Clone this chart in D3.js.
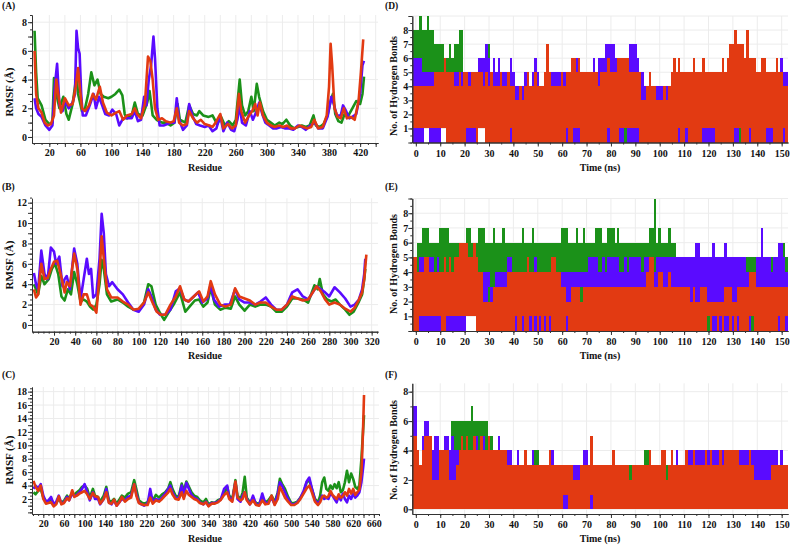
<!DOCTYPE html>
<html><head><meta charset="utf-8">
<script src="https://cdn.jsdelivr.net/npm/d3@7"></script>
<style>
body{margin:0;background:#fff}
svg text{font-family:"Liberation Serif","Times New Roman",serif;font-weight:bold;fill:#111}
</style></head><body>
<svg id="c" width="790" height="545"></svg>
<script>
const COLORS = {green:"#1b9119", blue:"#5a0bff", red:"#e23a12"};
const FONT = "'Liberation Serif','Times New Roman',serif";

// ---------- (A) RMSF, residue/value pairs ----------
const A_green = [[1,7.4],[3,4.5],[5,2.7],[10,2.2],[15,1.2],[20,0.9],[24,1.0],[26,4.1],[29,3.0],[33,2.0],[38,2.8],[42,1.6],[45,1.2],[50,2.3],[55,4.3],[57,3.0],[62,1.8],[66,2.0],[70,3.0],[74,4.5],[78,3.6],[82,4.0],[86,3.0],[90,2.8],[96,2.7],[100,2.8],[105,3.0],[110,3.3],[114,2.9],[117,1.6],[120,1.3],[126,1.5],[130,2.4],[134,1.6],[140,1.5],[146,2.4],[149,3.2],[153,1.5],[158,1.2],[165,1.0],[170,1.0],[176,0.8],[181,1.0],[185,2.3],[188,1.2],[195,1.0],[200,2.2],[205,1.6],[210,1.5],[213,1.8],[218,1.5],[225,1.4],[230,1.5],[236,0.9],[241,1.4],[246,0.8],[251,1.1],[256,0.8],[260,1.2],[265,4.0],[268,2.2],[272,1.5],[276,1.8],[280,2.8],[283,1.8],[287,3.7],[290,2.8],[295,1.8],[300,1.2],[305,1.0],[310,0.8],[316,1.0],[320,0.9],[325,1.2],[330,0.8],[335,0.6],[340,0.7],[345,0.8],[350,0.7],[355,0.8],[360,1.5],[363,0.8],[368,0.7],[373,0.9],[378,1.5],[382,2.5],[385,3.0],[388,1.6],[392,1.1],[396,1.0],[400,1.6],[405,1.5],[410,2.0],[415,2.5],[420,2.3],[423,3.0],[425,4.2]];
const A_blue = [[1,2.7],[3,2.0],[6,1.6],[10,1.4],[15,0.8],[20,0.5],[24,0.8],[27,3.5],[30,5.1],[33,2.2],[37,1.8],[40,2.5],[45,2.0],[50,2.4],[53,3.0],[55,7.4],[57,6.2],[59,5.8],[61,3.0],[63,1.5],[67,1.5],[72,2.2],[77,3.0],[80,2.0],[84,2.8],[88,2.2],[92,1.6],[97,1.5],[101,1.9],[106,1.6],[110,0.8],[115,1.3],[120,1.3],[126,1.3],[130,1.8],[134,1.1],[138,1.2],[142,2.8],[145,2.2],[148,4.0],[151,5.0],[154,7.0],[156,5.5],[159,2.0],[162,0.8],[167,0.8],[172,0.9],[177,1.0],[181,1.0],[184,2.7],[187,1.2],[192,0.5],[197,0.8],[200,2.3],[204,1.5],[209,0.9],[214,0.8],[220,0.7],[225,0.8],[230,0.4],[235,0.6],[240,1.5],[244,0.4],[249,1.0],[254,0.5],[258,0.4],[262,1.2],[265,2.2],[268,1.0],[273,0.8],[278,1.8],[282,1.2],[286,1.7],[290,2.4],[294,1.6],[298,1.0],[303,0.8],[308,0.6],[313,0.6],[318,0.7],[323,0.6],[328,0.6],[334,0.5],[340,0.8],[345,0.7],[350,0.5],[356,0.8],[362,1.0],[366,0.6],[372,0.6],[378,1.4],[383,2.8],[386,2.3],[390,1.5],[395,1.5],[398,2.2],[402,1.8],[406,1.3],[410,1.4],[415,1.6],[420,3.0],[423,5.0],[425,5.3]];
const A_red = [[1,6.0],[3,3.0],[6,2.0],[10,1.7],[14,1.0],[18,0.8],[22,0.9],[26,1.5],[29,4.0],[32,2.8],[35,1.7],[40,2.7],[45,2.2],[50,2.3],[54,3.5],[57,4.8],[59,3.6],[62,2.0],[66,1.8],[71,2.2],[76,3.0],[80,2.6],[85,3.5],[89,2.4],[94,1.7],[100,1.5],[106,1.7],[110,1.8],[115,1.2],[120,1.5],[126,1.6],[130,2.0],[133,1.6],[138,1.3],[143,2.3],[147,5.6],[150,5.3],[153,4.0],[156,2.0],[160,1.2],[165,1.3],[170,1.1],[176,1.0],[180,1.1],[184,2.0],[187,1.0],[192,0.8],[197,0.9],[200,1.8],[205,1.3],[210,1.0],[215,1.2],[220,0.9],[226,0.8],[230,0.7],[234,1.0],[240,1.6],[244,0.6],[250,0.9],[255,0.6],[260,0.8],[264,3.0],[267,1.8],[272,1.0],[277,1.5],[281,1.8],[285,2.3],[288,1.5],[291,2.4],[295,1.5],[300,1.0],[305,0.8],[310,0.7],[316,0.8],[321,0.7],[326,0.8],[331,0.6],[336,0.6],[342,0.8],[347,0.7],[352,0.6],[357,0.7],[361,1.2],[366,0.6],[372,0.7],[377,1.5],[380,3.5],[382,6.5],[384,5.0],[387,2.0],[391,1.4],[395,1.3],[399,2.0],[403,1.3],[408,1.4],[413,1.2],[418,2.5],[421,4.5],[424,6.8]];

// ---------- (B) RMSF ----------
const B_blue = [[1,5.1],[3,4.0],[5,3.5],[8,7.3],[11,5.0],[14,4.5],[17,7.6],[20,7.2],[22,6.0],[25,6.7],[28,3.8],[30,4.5],[32,4.8],[35,3.5],[39,7.5],[42,6.0],[45,2.5],[48,4.5],[51,6.5],[53,5.0],[55,5.5],[57,2.7],[60,3.0],[63,6.5],[65,10.9],[67,9.0],[69,5.0],[72,3.8],[75,4.2],[80,3.5],[85,3.0],[90,2.2],[95,1.5],[100,1.3],[105,2.0],[109,3.5],[112,2.8],[116,1.5],[120,1.0],[125,1.0],[130,1.5],[135,3.3],[139,3.6],[143,2.5],[147,2.3],[152,2.8],[156,3.2],[160,2.2],[165,2.6],[168,4.0],[171,2.5],[176,1.8],[181,2.0],[186,2.0],[191,3.5],[195,2.5],[200,2.2],[205,2.2],[210,2.0],[215,2.3],[220,2.7],[225,2.0],[230,1.5],[235,1.5],[240,2.0],[245,3.2],[250,3.5],[255,2.8],[260,2.5],[265,3.3],[268,3.8],[272,3.5],[276,3.2],[280,2.8],[285,3.7],[290,3.2],[295,2.6],[300,1.8],[304,2.0],[308,2.5],[311,3.5],[313,5.0],[314,6.5]];
const B_green = [[1,4.0],[3,3.5],[5,3.0],[8,4.8],[11,4.0],[15,4.5],[18,5.5],[21,6.0],[24,5.0],[27,2.8],[30,2.4],[33,3.5],[36,3.0],[39,5.2],[42,4.0],[45,2.3],[48,2.5],[51,2.3],[54,1.8],[57,1.5],[60,2.0],[63,4.0],[65,6.4],[67,5.5],[70,3.0],[74,2.3],[80,2.5],[85,2.2],[90,1.8],[95,1.5],[100,1.5],[105,2.2],[109,4.0],[112,3.8],[116,2.0],[120,1.2],[124,0.5],[128,1.2],[133,2.0],[139,3.2],[144,1.3],[148,1.8],[153,2.4],[157,2.5],[161,1.8],[165,2.2],[168,3.6],[172,2.0],[177,1.5],[182,1.7],[187,1.6],[191,2.8],[195,2.0],[200,1.4],[205,2.0],[210,1.8],[215,2.0],[220,2.0],[225,1.8],[230,1.3],[235,1.3],[240,1.8],[245,2.6],[250,2.6],[255,2.5],[260,2.2],[266,3.9],[269,3.5],[271,4.5],[274,3.0],[278,2.5],[282,2.3],[286,2.5],[290,2.0],[295,1.5],[299,1.0],[303,1.3],[308,2.3],[311,3.0],[313,4.5],[314,5.5]];
const B_red = [[1,3.5],[3,2.7],[5,3.0],[8,6.0],[11,4.5],[14,4.6],[17,5.5],[20,6.2],[23,6.3],[25,5.5],[28,4.2],[30,3.2],[32,4.2],[35,3.8],[39,7.0],[42,5.5],[45,2.0],[48,3.0],[51,3.0],[54,2.0],[57,1.8],[60,1.2],[63,5.0],[65,8.7],[67,6.5],[70,3.5],[74,2.7],[80,2.7],[85,2.3],[90,2.0],[95,1.5],[100,1.6],[105,2.2],[109,3.2],[113,2.2],[117,1.3],[121,1.0],[125,1.0],[130,2.0],[135,2.8],[139,3.8],[143,2.5],[147,2.3],[152,2.8],[157,3.3],[161,2.3],[165,2.8],[168,4.3],[172,3.0],[177,2.0],[182,1.8],[187,2.0],[191,3.6],[195,2.8],[200,2.6],[205,2.4],[210,2.0],[215,2.2],[220,2.2],[225,1.8],[230,1.5],[235,1.5],[240,2.0],[245,2.8],[250,2.6],[255,2.4],[260,2.5],[265,3.3],[268,3.8],[272,3.3],[276,2.5],[280,2.0],[285,2.2],[290,2.0],[295,1.6],[300,1.3],[304,1.7],[308,2.5],[311,3.2],[313,4.5],[315,6.9]];

// ---------- (C) RMSF, shared residues ----------
const C_res = [1,5,10,15,20,25,30,35,40,45,50,55,60,66,70,76,80,85,90,95,100,105,110,116,120,126,130,137,142,147,152,157,162,168,172,178,184,190,196,200,205,210,215,222,227,232,238,244,250,256,262,266,270,276,282,288,292,297,302,307,312,318,323,330,335,340,346,352,358,364,370,376,380,386,392,396,402,406,410,414,420,426,432,438,444,450,456,462,468,474,478,482,488,494,500,506,512,518,524,530,535,540,546,552,556,560,564,568,572,576,580,584,588,592,596,600,604,608,612,616,620,624,628,632,636,639,641];
const C_green = [3.0,2.7,3.2,3.5,2.2,1.7,1.6,2.0,1.3,1.4,2.0,1.5,1.7,2.5,2.0,3.0,2.6,3.0,3.3,3.8,4.0,3.5,2.2,3.5,2.5,2.3,1.6,2.5,3.8,1.8,1.6,2.0,1.3,2.0,2.5,2.2,2.8,3.0,4.8,3.5,1.8,1.5,1.3,1.5,2.5,1.8,2.6,2.2,2.7,3.0,3.6,4.5,3.5,2.5,2.3,4.3,3.2,4.6,3.8,3.0,2.5,2.3,1.8,1.5,2.0,1.2,1.5,1.4,1.8,2.0,2.8,3.8,2.5,2.0,4.8,2.5,2.0,3.0,5.3,2.2,1.5,2.0,1.4,1.3,2.2,1.5,1.8,2.5,1.5,3.0,5.0,4.3,3.5,2.3,1.4,1.4,1.6,2.2,3.0,4.5,4.8,3.5,2.0,1.5,2.5,4.5,5.2,3.5,3.2,4.0,3.5,4.2,3.6,4.5,3.0,3.3,4.5,6.2,4.5,5.8,5.0,3.8,3.5,4.0,8.0,12.0,14.5];
const C_blue = [3.5,4.0,3.6,4.2,2.5,1.6,1.8,2.3,1.2,1.6,2.5,1.3,1.5,2.3,1.8,2.8,2.4,2.6,3.0,3.5,4.2,3.0,1.8,3.0,2.0,2.0,1.2,2.0,3.5,1.5,1.2,1.8,1.0,1.6,2.0,1.8,2.3,2.5,4.2,2.8,1.5,1.2,1.0,1.3,3.5,1.5,2.0,1.8,2.2,2.8,3.5,4.0,3.0,2.2,2.0,4.0,2.5,4.4,3.5,2.6,2.2,2.0,1.5,1.2,1.6,1.0,1.4,1.4,1.6,2.0,3.5,4.0,2.2,1.8,4.5,2.0,1.6,2.5,3.0,2.0,1.2,2.5,1.2,1.1,2.8,1.3,1.5,2.2,1.2,2.8,4.5,4.0,3.0,2.0,1.2,1.2,1.5,2.2,3.2,4.6,5.2,3.6,1.8,1.3,1.8,2.5,2.0,2.2,2.0,2.8,2.5,2.0,1.5,2.5,1.8,2.8,2.0,1.5,2.5,2.0,2.8,2.2,2.5,3.0,4.5,6.5,8.0];
const C_red = [4.7,3.8,3.2,4.0,2.0,1.3,1.4,1.5,0.9,1.2,2.4,1.2,1.4,2.1,1.8,3.3,2.3,2.5,2.8,3.0,3.2,2.7,2.0,2.9,2.4,2.3,1.3,2.0,3.0,1.4,1.3,1.9,1.0,1.6,2.3,1.6,2.0,2.2,4.2,2.5,1.4,1.2,1.1,1.1,2.2,1.3,1.8,1.6,2.0,2.5,3.0,3.5,2.7,2.0,1.9,3.0,2.0,3.2,2.6,2.3,2.0,1.8,1.4,1.2,1.5,0.9,1.3,1.3,1.5,1.9,2.6,3.0,2.0,1.6,4.6,2.2,1.8,2.0,3.0,1.8,1.2,1.8,1.1,1.0,1.8,1.2,1.3,2.5,1.1,2.0,3.8,3.2,2.2,1.6,1.1,1.1,1.4,2.0,2.8,3.6,4.0,3.0,1.6,1.1,1.5,2.3,2.5,2.2,2.4,3.2,2.6,2.3,2.0,2.7,2.2,2.4,3.0,2.5,3.5,2.8,3.5,2.6,3.0,3.4,6.0,12.0,17.5];

// ---------- H-bond counts per ns (t = 0,1,2,...): upper / lower envelope of each trace ----------
const digits = s => Array.from(s, Number);
const D_green_hi = digits("8898898877"+"7766767788"+"5444444444"+"7444444554"+"4444444444"+"4444444444"+"4444444444"+"4444444444"+"4444444444"+"4444444444"+"4444444444"+"4444444444"+"5544445444"+"4444444444"+"4444444444"+"4444");
const D_green_lo = digits("1111111111"+"1111111111"+"1111111111"+"1111111111"+"1111111111"+"1111111111"+"1111111111"+"1111111111"+"1111100011"+"1111111111"+"1111111111"+"1111111111"+"1111111111"+"1110111111"+"1111110111"+"1111");
const D_blue_hi = digits("6665555555"+"5555555555"+"5555556667"+"6565655556"+"5444454456"+"5445545555"+"5544556655"+"5556566677"+"7766666677"+"7655445444"+"4444454555"+"5555555555"+"5555555555"+"5555555555"+"5555555555"+"6554");
const D_blue_lo = digits("0000110000"+"0110000000"+"0000001110"+"0000000000"+"0000000000"+"0000000000"+"0000000000"+"0000000000"+"0000001000"+"0000000000"+"0000000000"+"0000000000"+"0000000000"+"0001000000"+"0000000000"+"0000");
const D_red_hi = digits("4444444455"+"5565554454"+"5545555545"+"4544454454"+"4334345445"+"4445754444"+"5455665655"+"5555545556"+"5556666655"+"5553345443"+"3343456565"+"5555655565"+"5555556567"+"7877768666"+"5566555565"+"5444");
const D_red_lo = digits("1111111111"+"1110000000"+"0111101110"+"0000000001"+"0000000000"+"0000000000"+"0010011100"+"0000000001"+"0000111111"+"1100000000"+"0000000010"+"0100000011"+"1110000000"+"0111000100"+"0000111000"+"0100");

const E_green_hi = digits("5667776666"+"7777666666"+"6776667776"+"6676667666"+"6666766676"+"6666666666"+"7776667667"+"6666777667"+"7767666666"+"6666667796"+"7666766555"+"5555555555"+"5555555555"+"5555555555"+"5555555555"+"5655");
const E_green_lo = digits("2222222222"+"2222222222"+"2222222222"+"2222222222"+"2222222222"+"2222222222"+"2222222222"+"2222222222"+"2222222222"+"2222222222"+"2222222222"+"2222222222"+"0222222222"+"2222222202"+"2222222222"+"2222");
const E_blue_hi = digits("4455545545"+"4444544455"+"5555554444"+"4334444455"+"4444444445"+"4444444444"+"4444444444"+"4555544545"+"5555445455"+"5554555545"+"5555555555"+"5555566555"+"5565555655"+"5555554444"+"5575554556"+"6545");
const E_blue_lo = digits("0000000000"+"0000000000"+"0111100000"+"3000000000"+"0000000000"+"0000000000"+"0000000030"+"0000000000"+"0000000000"+"0000000000"+"0000000000"+"0000000000"+"1000100000"+"0000000010"+"0000000000"+"0000");
const E_red_hi = digits("5444554444"+"4454545566"+"6655654422"+"2233333344"+"4444445444"+"4444445544"+"3322333323"+"3333333333"+"3333333333"+"3333345533"+"4433433333"+"3332322333"+"2222222333"+"2233333444"+"3333333333"+"3333");
const E_red_lo = digits("0011111111"+"1001111111"+"1111100000"+"0000000000"+"0100100101"+"0101010000"+"0010000000"+"0000000000"+"0000000000"+"0000000000"+"0000000000"+"0000000000"+"1011010110"+"1010000110"+"0000000001"+"0010");

const F_green_hi = digits("3333333333"+"3333366666"+"6667666666"+"5543333333"+"3333333334"+"4333333333"+"3333333333"+"3333333333"+"3333333333"+"3333444333"+"3333333333"+"3333333333"+"3333333333"+"3333333333"+"3333333333"+"3333");
const F_green_lo = digits("2222222222"+"2222222222"+"2222222222"+"2222222222"+"2222222222"+"2222222222"+"2222222222"+"2222222222"+"2222222222"+"2222222222"+"2222222222"+"2222222222"+"2222222222"+"2222222222"+"2222222222"+"2222");
const F_blue_hi = digits("7335665455"+"4455454444"+"4544454454"+"4444544444"+"3343333343"+"3333334333"+"3333333334"+"4333333333"+"3333333323"+"3333333333"+"3332333433"+"3344444444"+"4444444444"+"4444444444"+"4444444443"+"4333");
const F_blue_lo = digits("0000000000"+"0000000000"+"0000000000"+"0000000000"+"0000000000"+"0000000000"+"0000000000"+"0000000000"+"0000000000"+"0000000000"+"0000000000"+"0000000000"+"0000000000"+"0000000000"+"0000000000"+"0000");
const F_red_hi = digits("5434555222"+"4444222345"+"4544544544"+"5444444433"+"3333343333"+"3333343333"+"3333322233"+"3353333333"+"3433333323"+"3333334333"+"3442343333"+"3433433334"+"3433343444"+"4443333432"+"2222223333"+"3333");
const F_red_lo = digits("0000000000"+"0000000000"+"0000000000"+"0000000000"+"0000000000"+"0000000000"+"0110000000"+"0010000000"+"0000000000"+"0000000000"+"0000000000"+"0000000000"+"0000000000"+"0000000000"+"0000000000"+"0000");

// ---------- tick labels ----------
const A_xLabels = [20,60,100,140,180,220,260,300,340,380,420];
const B_xLabels = [20,40,60,80,100,120,140,160,180,200,220,240,260,280,300,320];
const C_xLabels = [20,60,100,140,180,220,260,300,340,380,420,460,500,540,580,620,660];
const T_xLabels = [0,10,20,30,40,50,60,70,80,90,100,110,120,130,140,150];
const A_yLabels = [0,2,4,6,8];
const B_yLabels = [0,2,4,6,8,10,12];
const C_yLabels = [2,4,6,8,10,12,14,16,18];
const DE_yLabels = [1,2,3,4,5,6,7,8];
const F_yLabels = [0,2,4,6,8];

const svg = d3.select("#c");
const range = (a,b,s) => d3.range(a, b + s/2, s);

function axes(g, x, y, cfg) {
  const [x0, x1] = x.range(), [yb, yt] = y.range();
  g.append("g").selectAll("line").data(cfg.xGrid).join("line")
    .attr("x1", d => x(d)).attr("x2", d => x(d)).attr("y1", yb).attr("y2", yt)
    .attr("stroke", "#ececec").attr("stroke-width", 1);
  g.append("g").selectAll("line").data(cfg.yGrid).join("line")
    .attr("y1", d => y(d)).attr("y2", d => y(d)).attr("x1", x0).attr("x2", x1)
    .attr("stroke", "#ececec").attr("stroke-width", 1);
}
function axisLines(g, x, y, cfg) {
  const [yb] = y.range(), [x0] = x.range();
  const xa = g.append("g").attr("transform", `translate(0,${yb})`);
  xa.append("g").call(d3.axisBottom(x).tickValues(cfg.xMinor).tickSize(2).tickFormat("").tickSizeOuter(0));
  xa.append("g").call(d3.axisBottom(x).tickValues(cfg.xMajor).tickSize(4).tickPadding(cfg.xPad)
      .tickFormat(d => cfg.xLabels.includes(d) ? d : "").tickSizeOuter(0));
  const ya = g.append("g").attr("transform", `translate(${x0},0)`);
  ya.append("g").call(d3.axisLeft(y).tickValues(cfg.yMinor).tickSize(2).tickFormat("").tickSizeOuter(0));
  ya.append("g").call(d3.axisLeft(y).tickValues(cfg.yMajor).tickSize(4).tickPadding(cfg.yPad)
      .tickFormat(d => cfg.yLabels.includes(d) ? d : "").tickSizeOuter(0));
  g.selectAll(".domain, .tick line").attr("stroke", "#333");
  g.selectAll("g").attr("font-family", null).attr("font-size", null);
  g.selectAll(".tick text").style("font-family", FONT).style("font-weight", "bold").style("font-size", "10px").style("fill", "#111");
}
function titles(g, cfg) {
  const t = sel => sel.style("font-family", FONT).style("font-weight", "bold").style("fill", "#111");
  t(g.append("text").attr("x", cfg.tag[0]).attr("y", cfg.tag[1]).style("font-size", "9.5px").text(cfg.tagText));
  t(g.append("text").attr("x", cfg.xt[0]).attr("y", cfg.xt[1]).attr("text-anchor", "middle").style("font-size", "10px").text(cfg.xTitle));
  t(g.append("text").attr("transform", `translate(${cfg.yt[0]},${cfg.yt[1]}) rotate(-90)`)
    .attr("text-anchor", "middle").style("font-size", cfg.ytSize + "px").text(cfg.yTitle));
}

function rmsfPanel(cfg, series) {
  const g = svg.append("g");
  const x = d3.scaleLinear().domain(cfg.xDom).range([32, cfg.xEnd]);
  const y = d3.scaleLinear().domain(cfg.yDom).range(cfg.yRange);
  axes(g, x, y, cfg);
  const line = d3.line().x(d => x(d[0])).y(d => y(d[1]));
  series.forEach(s => {
    g.append("path").datum(s.data).attr("d", line).attr("fill", "none")
      .attr("stroke", s.color).attr("stroke-width", 2.6).attr("stroke-linejoin", "round");
  });
  axisLines(g, x, y, cfg);
  titles(g, cfg);
}

function hbPanel(cfg, series) {
  const g = svg.append("g");
  const x = d3.scaleLinear().domain([-1.45, 152.6]).range([412.3, 788]);
  const y = d3.scaleLinear().domain(cfg.yDom).range(cfg.yRange);
  axes(g, x, y, cfg);
  const [xa, xb] = x.range();
  series.forEach(s => {
    const bins = s.hi.map((h, i) => ({i, h, l: s.lo[i] ?? 0}));
    g.append("g").attr("shape-rendering", "crispEdges").selectAll("rect").data(bins).join("rect")
      .attr("x", d => d.i === 0 ? xa : x(d.i - 0.5))
      .attr("width", d => Math.max(0, Math.min(xb, x(d.i + 0.5)) - (d.i === 0 ? xa : x(d.i - 0.5))))
      .attr("y", d => y(d.h)).attr("height", d => Math.max(0, y(d.l) - y(d.h)))
      .attr("fill", s.color);
  });
  axisLines(g, x, y, cfg);
  titles(g, cfg);
}

const rmsfTitle = "RMSF (Å)", hbTitle = "No. of Hydrogen Bonds";

rmsfPanel({xDom:[-2.3,443], xEnd:378, yDom:[-0.42,8.5], yRange:[143,15],
  xGrid: range(20,440,20), yGrid: A_yLabels, xMinor: range(0,440,10), xMajor: range(20,440,20), xLabels: A_xLabels,
  yMinor: range(0,8.5,0.5), yMajor: range(0,8,1), yLabels: A_yLabels, xPad:2, yPad:1,
  tag:[2,9], tagText:"(A)", xt:[205,171], xTitle:"Residue", yt:[13,92], ytSize:11, yTitle:rmsfTitle},
  [{data:A_green, color:COLORS.green},{data:A_blue, color:COLORS.blue},{data:A_red, color:COLORS.red}]);

rmsfPanel({xDom:[-0.8,326], xEnd:378, yDom:[-0.66,12.43], yRange:[331.7,198.3],
  xGrid: range(20,320,20), yGrid: B_yLabels, xMinor: range(0,325,5), xMajor: range(20,320,20), xLabels: B_xLabels,
  yMinor: range(0,12.4,0.5), yMajor: range(0,12,1), yLabels: B_yLabels, xPad:2, yPad:1,
  tag:[2,190], tagText:"(B)", xt:[205,359], xTitle:"Residue", yt:[13,265], ytSize:11, yTitle:rmsfTitle},
  [{data:B_green, color:COLORS.green},{data:B_blue, color:COLORS.blue},{data:B_red, color:COLORS.red}]);

const C_pairs = v => C_res.map((r, i) => [r, v[i]]);
rmsfPanel({xDom:[-1.9,670], xEnd:379, yDom:[-0.24,18.69], yRange:[514,387],
  xGrid: range(20,660,20), yGrid: C_yLabels, xMinor: range(0,670,10), xMajor: range(20,660,20), xLabels: C_xLabels,
  yMinor: range(0,18.5,0.5), yMajor: range(0,18,1), yLabels: C_yLabels, xPad:2, yPad:1,
  tag:[2,378], tagText:"(C)", xt:[205,542], xTitle:"Residue", yt:[13,460], ytSize:11, yTitle:rmsfTitle},
  [{data:C_pairs(C_green), color:COLORS.green},{data:C_pairs(C_blue), color:COLORS.blue},{data:C_pairs(C_red), color:COLORS.red}]);

hbPanel({yDom:[0,9], yRange:[142.5,16],
  xGrid: range(0,150,10), yGrid: range(1,9,1), xMinor: range(0,152,5), xMajor: range(0,150,10), xLabels: T_xLabels,
  yMinor: range(0,9,0.5), yMajor: range(0,9,1), yLabels: DE_yLabels, xPad:3, yPad:0,
  tag:[385,9], tagText:"(D)", xt:[600,171], xTitle:"Time (ns)", yt:[397,86], ytSize:10, yTitle:hbTitle},
  [{hi:D_green_hi, lo:D_green_lo, color:COLORS.green},{hi:D_blue_hi, lo:D_blue_lo, color:COLORS.blue},{hi:D_red_hi, lo:D_red_lo, color:COLORS.red}]);

hbPanel({yDom:[0,9], yRange:[331,198.5],
  xGrid: range(0,150,10), yGrid: range(1,9,1), xMinor: range(0,152,5), xMajor: range(0,150,10), xLabels: T_xLabels,
  yMinor: range(0,9,0.5), yMajor: range(0,9,1), yLabels: DE_yLabels, xPad:3, yPad:0,
  tag:[385,190], tagText:"(E)", xt:[600,359], xTitle:"Time (ns)", yt:[397,264], ytSize:10, yTitle:hbTitle},
  [{hi:E_green_hi, lo:E_green_lo, color:COLORS.green},{hi:E_blue_hi, lo:E_blue_lo, color:COLORS.blue},{hi:E_red_hi, lo:E_red_lo, color:COLORS.red}]);

hbPanel({yDom:[-0.32,8.57], yRange:[514,383.3],
  xGrid: range(0,150,10), yGrid: F_yLabels, xMinor: range(0,152,5), xMajor: range(0,150,10), xLabels: T_xLabels,
  yMinor: range(0,8.5,1), yMajor: range(0,8,2), yLabels: F_yLabels, xPad:3, yPad:0,
  tag:[385,378], tagText:"(F)", xt:[600,542], xTitle:"Time (ns)", yt:[397,450], ytSize:10, yTitle:hbTitle},
  [{hi:F_green_hi, lo:F_green_lo, color:COLORS.green},{hi:F_blue_hi, lo:F_blue_lo, color:COLORS.blue},{hi:F_red_hi, lo:F_red_lo, color:COLORS.red}]);
</script>
</body></html>
